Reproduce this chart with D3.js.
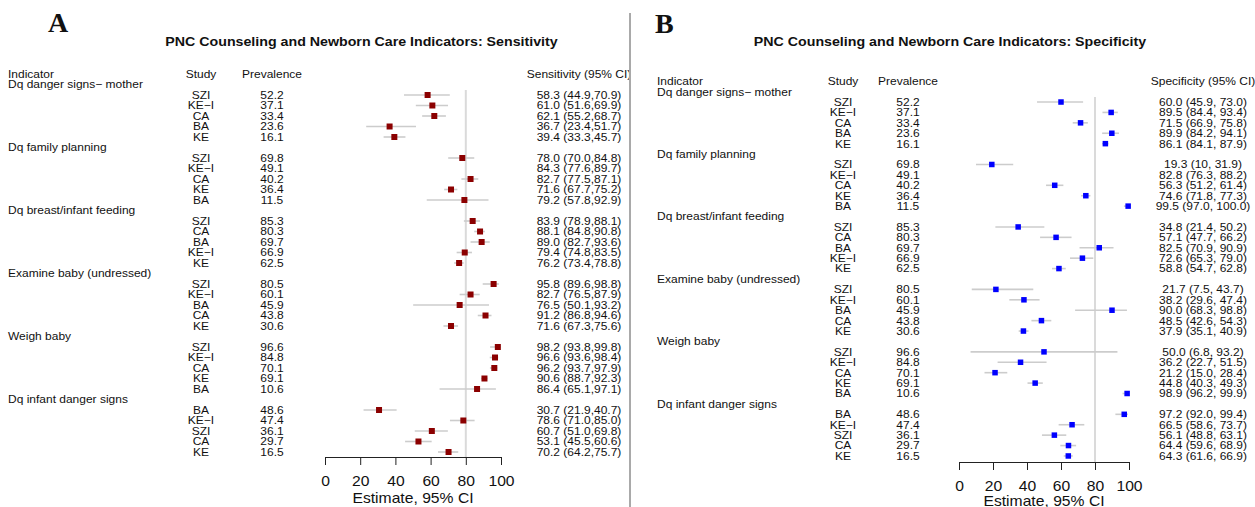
<!DOCTYPE html>
<html>
<head>
<meta charset="utf-8">
<script src="https://cdn.jsdelivr.net/npm/d3@7"></script>
<style>
    body { margin: 0; background: #fff; }
    svg text { font-family: "Liberation Sans", Arial, sans-serif; fill: #111; }
</style>
</head>
<body>
<svg id="chart" width="1255" height="507"></svg>
<script>
// indicators and the studies listed under each, in plotted order
var indicators = ["Dq danger signs\u2212 mother", "Dq family planning", "Dq breast/infant feeding",
    "Examine baby (undressed)", "Weigh baby", "Dq infant danger signs"];

var studies = [
    ["SZI", "KE\u2212I", "CA", "BA", "KE"],
    ["SZI", "KE\u2212I", "CA", "KE", "BA"],
    ["SZI", "CA", "BA", "KE\u2212I", "KE"],
    ["SZI", "KE\u2212I", "BA", "CA", "KE"],
    ["SZI", "KE\u2212I", "CA", "KE", "BA"],
    ["BA", "KE\u2212I", "SZI", "CA", "KE"]
];

var prevalence = [
    ["52.2", "37.1", "33.4", "23.6", "16.1"],
    ["69.8", "49.1", "40.2", "36.4", "11.5"],
    ["85.3", "80.3", "69.7", "66.9", "62.5"],
    ["80.5", "60.1", "45.9", "43.8", "30.6"],
    ["96.6", "84.8", "70.1", "69.1", "10.6"],
    ["48.6", "47.4", "36.1", "29.7", "16.5"]
];

// sensitivity (panel A); null = no marker drawn in the source figure
var sensEst = [
    [58.3, 61.0, 62.1, 36.7, 39.4],
    [78.0, null, 82.7, 71.6, 79.2],
    [83.9, 88.1, 89.0, 79.4, 76.2],
    [95.8, 82.7, 76.5, 91.2, 71.6],
    [98.2, 96.6, 96.2, 90.6, 86.4],
    [30.7, 78.6, 60.7, 53.1, 70.2]
];
var sensLow = [
    [44.9, 51.6, 55.2, 23.4, 33.3],
    [70.0, null, 77.5, 67.7, 57.8],
    [78.9, 84.8, 82.7, 74.8, 73.4],
    [89.6, 76.5, 50.1, 86.8, 67.3],
    [93.8, 93.6, 93.7, 88.7, 65.1],
    [21.9, 71.0, 51.0, 45.5, 64.2]
];
var sensHigh = [
    [70.9, 69.9, 68.7, 51.7, 45.7],
    [84.8, null, 87.1, 75.2, 92.9],
    [88.1, 90.8, 93.6, 83.5, 78.8],
    [98.8, 87.9, 93.2, 94.6, 75.6],
    [99.8, 98.4, 97.9, 92.3, 97.1],
    [40.7, 85.0, 69.8, 60.6, 75.7]
];
var sensText = [
    ["58.3 (44.9,70.9)", "61.0 (51.6,69.9)", "62.1 (55.2,68.7)", "36.7 (23.4,51.7)", "39.4 (33.3,45.7)"],
    ["78.0 (70.0,84.8)", "84.3 (77.6,89.7)", "82.7 (77.5,87.1)", "71.6 (67.7,75.2)", "79.2 (57.8,92.9)"],
    ["83.9 (78.9,88.1)", "88.1 (84.8,90.8)", "89.0 (82.7,93.6)", "79.4 (74.8,83.5)", "76.2 (73.4,78.8)"],
    ["95.8 (89.6,98.8)", "82.7 (76.5,87.9)", "76.5 (50.1,93.2)", "91.2 (86.8,94.6)", "71.6 (67.3,75.6)"],
    ["98.2 (93.8,99.8)", "96.6 (93.6,98.4)", "96.2 (93.7,97.9)", "90.6 (88.7,92.3)", "86.4 (65.1,97.1)"],
    ["30.7 (21.9,40.7)", "78.6 (71.0,85.0)", "60.7 (51.0,69.8)", "53.1 (45.5,60.6)", "70.2 (64.2,75.7)"]
];

// specificity (panel B)
var specEst = [
    [60.0, 89.5, 71.5, 89.9, 86.1],
    [19.3, null, 56.3, 74.6, 99.5],
    [34.8, 57.1, 82.5, 72.6, 58.8],
    [21.7, 38.2, 90.0, 48.5, 37.9],
    [50.0, 36.2, 21.2, 44.8, 98.9],
    [97.2, 66.5, 56.1, 64.4, 64.3]
];
var specLow = [
    [45.9, 84.4, 66.9, 84.2, 84.1],
    [10, null, 51.2, 71.8, 97.0],
    [21.4, 47.7, 70.9, 65.3, 54.7],
    [7.5, 29.6, 68.3, 42.6, 35.1],
    [6.8, 22.7, 15.0, 40.3, 96.2],
    [92.0, 58.6, 48.8, 59.6, 61.6]
];
var specHigh = [
    [73.0, 93.4, 75.8, 94.1, 87.9],
    [31.9, null, 61.4, 77.3, 100.0],
    [50.2, 66.2, 90.9, 79.0, 62.8],
    [43.7, 47.4, 98.8, 54.3, 40.9],
    [93.2, 51.5, 28.4, 49.3, 99.9],
    [99.4, 73.7, 63.1, 68.9, 66.9]
];
var specText = [
    ["60.0 (45.9, 73.0)", "89.5 (84.4, 93.4)", "71.5 (66.9, 75.8)", "89.9 (84.2, 94.1)", "86.1 (84.1, 87.9)"],
    ["19.3 (10, 31.9)", "82.8 (76.3, 88.2)", "56.3 (51.2, 61.4)", "74.6 (71.8, 77.3)", "99.5 (97.0, 100.0)"],
    ["34.8 (21.4, 50.2)", "57.1 (47.7, 66.2)", "82.5 (70.9, 90.9)", "72.6 (65.3, 79.0)", "58.8 (54.7, 62.8)"],
    ["21.7 (7.5, 43.7)", "38.2 (29.6, 47.4)", "90.0 (68.3, 98.8)", "48.5 (42.6, 54.3)", "37.9 (35.1, 40.9)"],
    ["50.0 (6.8, 93.2)", "36.2 (22.7, 51.5)", "21.2 (15.0, 28.4)", "44.8 (40.3, 49.3)", "98.9 (96.2, 99.9)"],
    ["97.2 (92.0, 99.4)", "66.5 (58.6, 73.7)", "56.1 (48.8, 63.1)", "64.4 (59.6, 68.9)", "64.3 (61.6, 66.9)"]
];

var axisTicks = [0, 20, 40, 60, 80, 100];
var refValue = 80;

(function () {
    "use strict";

    var svg = d3.select("#chart"),
        sx = 1.12;   // the source text is a little wider than Arial

    var place = function (x, y) {
        return "translate(" + x + "," + y + ") scale(" + sx + ",1)";
    };

    svg.append("defs").append("clipPath")
        .attr("id", "clipA")
        .append("rect")
        .attr("x", 0).attr("y", 0)
        .attr("width", 629).attr("height", 507);

    // one entry per printed line: indicator header, then its five studies
    var buildRows = function () {
        var rows = [], r = 1;
        indicators.forEach(function (name, g) {
            rows.push({ kind: "indicator", text: name, row: r++ });
            studies[g].forEach(function (s, j) {
                rows.push({ kind: "study", g: g, j: j, row: r++ });
            });
        });
        return rows;
    };

    var drawPanel = function (p) {
        var panel = svg.append("g").attr("clip-path", p.clip ? "url(#" + p.clip + ")" : null),
            rows = buildRows(),
            studyRows = rows.filter(function (d) { return d.kind === "study"; }),
            x = d3.scaleLinear().domain([0, 100]).range(p.xRange),
            y = d3.scaleLinear().domain([0, rows.length]).range([p.top, p.top + rows.length * p.rowH]),
            fs = 10.7,
            base = 3.9;

        panel.append("text")
            .attr("x", p.letterX)
            .attr("y", p.letterY)
            .attr("font-weight", "bold")
            .attr("font-size", 28)
            .style("font-family", "'Liberation Serif', 'Times New Roman', serif")
            .text(p.letter);

        panel.append("text")
            .attr("transform", place(p.titleX, 46))
            .attr("text-anchor", "middle")
            .attr("font-weight", "bold")
            .attr("font-size", 12.7)
            .text(p.title);

        // column headers
        var headers = [
            { text: "Indicator", x: p.indX, anchor: "start" },
            { text: "Study", x: p.studyX, anchor: "middle" },
            { text: "Prevalence", x: p.prevX, anchor: "middle" },
            { text: p.ciHeader, x: p.ciX, anchor: "middle" }
        ];
        panel.selectAll("text.head")
            .data(headers)
            .enter()
            .append("text")
            .attr("class", "head")
            .attr("transform", function (d) { return place(d.x, y(0) + base); })
            .attr("text-anchor", function (d) { return d.anchor; })
            .attr("font-size", fs)
            .text(function (d) { return d.text; });

        panel.selectAll("text.ind")
            .data(rows.filter(function (d) { return d.kind === "indicator"; }))
            .enter()
            .append("text")
            .attr("class", "ind")
            .attr("transform", function (d) { return place(p.indX, y(d.row) + base); })
            .attr("font-size", fs)
            .text(function (d) { return d.text; });

        var cols = [
            { x: p.studyX, get: function (d) { return studies[d.g][d.j]; } },
            { x: p.prevX, get: function (d) { return prevalence[d.g][d.j]; } },
            { x: p.ciX, get: function (d) { return p.text[d.g][d.j]; } }
        ];
        cols.forEach(function (c, ci) {
            panel.selectAll("text.col" + ci)
                .data(studyRows)
                .enter()
                .append("text")
                .attr("class", "col" + ci)
                .attr("transform", function (d) { return place(c.x, y(d.row) + base); })
                .attr("text-anchor", "middle")
                .attr("font-size", fs)
                .text(c.get);
        });

        // reference line
        panel.append("line")
            .attr("x1", x(refValue)).attr("x2", x(refValue))
            .attr("y1", p.refTop).attr("y2", p.axisY)
            .attr("stroke", "#dadada")
            .attr("stroke-width", 2);

        var marks = studyRows.filter(function (d) { return p.est[d.g][d.j] !== null; });

        panel.selectAll("line.ci")
            .data(marks)
            .enter()
            .append("line")
            .attr("class", "ci")
            .attr("x1", function (d) { return x(p.low[d.g][d.j]); })
            .attr("x2", function (d) { return x(p.high[d.g][d.j]); })
            .attr("y1", function (d) { return y(d.row); })
            .attr("y2", function (d) { return y(d.row); })
            .attr("stroke", "#cccccc")
            .attr("stroke-width", 1.6);

        panel.selectAll("rect.box")
            .data(marks)
            .enter()
            .append("rect")
            .attr("class", "box")
            .attr("x", function (d) { return x(p.est[d.g][d.j]) - p.box / 2; })
            .attr("y", function (d) { return y(d.row) - p.box / 2; })
            .attr("width", p.box)
            .attr("height", p.box)
            .attr("fill", p.color);

        var axis = panel.append("g")
            .attr("transform", "translate(0," + p.axisY + ")")
            .call(d3.axisBottom(x).tickValues(axisTicks).tickSize(8).tickSizeOuter(0).tickPadding(11.5));
        axis.attr("font-size", 14).attr("font-family", null);
        axis.selectAll("text")
            .attr("fill", "#111")
            .attr("transform", "scale(" + sx + ",1)");
        axis.selectAll("line, path").attr("stroke", "#222");

        panel.append("text")
            .attr("transform", place((p.xRange[0] + p.xRange[1]) / 2, p.axisY + p.labelOffset))
            .attr("text-anchor", "middle")
            .attr("font-size", 14)
            .text("Estimate, 95% CI");
    };

    drawPanel({
        clip: "clipA",
        letter: "A", letterX: 48, letterY: 32,
        title: "PNC Counseling and Newborn Care Indicators: Sensitivity", titleX: 361.5,
        indX: 8, studyX: 201, prevX: 272, ciX: 579,
        ciHeader: "Sensitivity (95% CI)",
        xRange: [325, 501],
        top: 74, rowH: 10.5,
        refTop: 90, axisY: 457, labelOffset: 46,
        est: sensEst, low: sensLow, high: sensHigh, text: sensText,
        color: "#8b0000", box: 6
    });

    drawPanel({
        clip: null,
        letter: "B", letterX: 655, letterY: 33,
        title: "PNC Counseling and Newborn Care Indicators: Specificity", titleX: 950,
        indX: 657, studyX: 843, prevX: 908, ciX: 1203,
        ciHeader: "Specificity (95% CI)",
        xRange: [959, 1129],
        top: 81.2, rowH: 10.41,
        refTop: 97, axisY: 462, labelOffset: 44,
        est: specEst, low: specLow, high: specHigh, text: specText,
        color: "#0000ff", box: 5.5
    });

    // divider between the two panels
    svg.append("line")
        .attr("x1", 630).attr("x2", 630)
        .attr("y1", 13).attr("y2", 507)
        .attr("stroke", "#555")
        .attr("stroke-width", 1);
})();
</script>
</body>
</html>
